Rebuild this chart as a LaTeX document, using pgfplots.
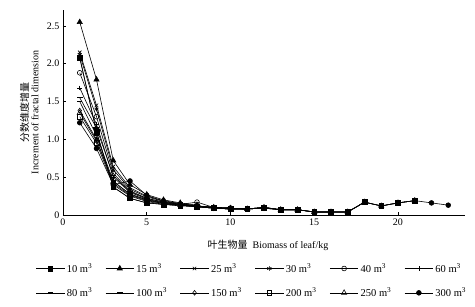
\documentclass[border=0pt]{standalone}
\usepackage{fontspec}
\setmainfont{Liberation Serif}
\newfontfamily\cjk{Noto Sans CJK SC}
\usepackage{pgfplots}
\usepackage{pgfplotstable}
\pgfplotsset{compat=1.18}
\pgfplotstableread{
x s10 s15 s25 s30 s40 s60 s80 s100 s150 s200 s250 s300
1 2.08 2.55 2.15 2.12 1.88 1.68 1.50 1.55 1.38 1.30 1.35 1.22
2 1.10 1.79 1.45 1.40 1.30 1.20 1.05 1.15 1.00 0.95 0.98 0.88
3 0.37 0.72 0.64 0.60 0.55 0.50 0.45 0.52 0.42 0.40 0.44 0.40
4 0.22 0.40 0.36 0.34 0.32 0.30 0.27 0.31 0.26 0.25 0.28 0.45
5 0.16 0.27 0.25 0.24 0.22 0.21 0.20 0.22 0.19 0.18 0.20 0.26
6 0.14 0.20 0.19 0.18 0.17 0.16 0.15 0.17 0.15 0.14 0.16 0.18
7 0.13 0.16 0.15 0.15 0.14 0.14 0.13 0.14 0.13 0.12 0.13 0.14
8 0.11 0.13 0.12 0.12 0.17 0.12 0.11 0.12 0.11 0.11 0.12 0.12
9 0.09 nan 0.10 0.10 0.10 0.10 0.09 0.10 0.09 0.09 0.10 0.10
10 0.08 nan nan 0.09 0.09 0.09 0.08 0.09 0.08 0.08 0.09 0.09
11 0.08 nan nan nan 0.08 0.08 0.08 0.08 0.08 0.08 0.08 0.08
12 0.10 nan nan nan nan 0.09 0.09 0.10 0.09 0.09 0.10 0.10
13 0.07 nan nan nan nan nan 0.07 0.07 0.07 0.07 0.07 0.07
14 0.07 nan nan nan nan nan nan 0.07 0.07 0.07 0.07 0.07
15 0.04 nan nan nan nan nan nan nan 0.04 0.04 0.04 0.04
16 0.04 nan nan nan nan nan nan nan 0.04 0.04 0.04 0.04
17 0.04 nan nan nan nan nan nan nan nan 0.04 0.04 0.04
18 0.17 nan nan nan nan nan nan nan nan 0.17 0.17 0.17
19 0.12 nan nan nan nan nan nan nan nan nan 0.12 0.12
20 0.16 nan nan nan nan nan nan nan nan nan 0.16 0.16
21 0.19 nan nan nan nan nan nan nan nan nan 0.19 0.19
22 nan nan nan nan nan nan nan nan nan nan nan 0.16
23 nan nan nan nan nan nan nan nan nan nan nan 0.13
}\datatab
\begin{document}
\begin{tikzpicture}
\path[use as bounding box] (-63pt,-91pt) rectangle (412pt,215pt);
\begin{axis}[
  at={(0,0)}, anchor=south west,
  scale only axis, width=402pt, height=205pt,
  xmin=0, xmax=24, ymin=0, ymax=2.71,
  axis x line*=bottom, axis y line*=left,
  axis line style={-, line width=0.7pt},
  tick style={line width=0.6pt, black},
  major tick length=3pt,
  xtick={0,5,10,15,20}, ytick={0,0.5,1,1.5,2,2.5},
  yticklabels={0,0.5,1.0,1.5,2.0,2.5},
  /pgf/number format/assume math mode=true,
  tick label style={font=\fontsize{10}{12}\selectfont},
  xlabel={{\cjk 叶生物量}\ \ Biomass of leaf/kg},
  xlabel style={font=\fontsize{10}{12}\selectfont, at={(rel axis cs:0.51,0)}, yshift=-22pt, anchor=north},
  ylabel={\shortstack{{\cjk 分数维度增量}\\[-1pt]Increment of fractal dimension}},
  ylabel style={font=\fontsize{10}{11}\selectfont, at={(rel axis cs:0,0.5)}, anchor=south, yshift=21pt, xshift=0pt},
  every axis plot/.append style={black, line width=0.6pt, mark size=2.4pt},
  legend style={at={(rel axis cs:0.47,-0.225)}, anchor=north, draw=none, fill=none,
    font=\fontsize{10.5}{12}\selectfont, legend columns=6,
    /tikz/every even column/.append style={column sep=11pt},
    row sep=10pt, inner sep=0pt},
  legend cell align=left,
  legend image code/.code={\draw[mark repeat=2,mark phase=2] plot coordinates {(0cm,0cm) (0.5cm,0cm) (1.0cm,0cm)};},
]
\addplot[mark=square*] table[x=x,y=s10] {\datatab};
\addlegendentry{10 m\textsuperscript{3}}
\addplot[mark=triangle*, mark size=3pt] table[x=x,y=s15] {\datatab};
\addlegendentry{15 m\textsuperscript{3}}
\addplot[mark=x] table[x=x,y=s25] {\datatab};
\addlegendentry{25 m\textsuperscript{3}}
\addplot[mark=asterisk] table[x=x,y=s30] {\datatab};
\addlegendentry{30 m\textsuperscript{3}}
\addplot[mark=o, mark options={fill=white}] table[x=x,y=s40] {\datatab};
\addlegendentry{40 m\textsuperscript{3}}
\addplot[mark=+] table[x=x,y=s60] {\datatab};
\addlegendentry{60 m\textsuperscript{3}}
\addplot[mark=-, mark options={line width=1.2pt}] table[x=x,y=s80] {\datatab};
\addlegendentry{80 m\textsuperscript{3}}
\addplot[mark=-, mark options={line width=1.4pt}, mark size=3pt] table[x=x,y=s100] {\datatab};
\addlegendentry{100 m\textsuperscript{3}}
\addplot[mark=diamond, mark options={fill=white}] table[x=x,y=s150] {\datatab};
\addlegendentry{150 m\textsuperscript{3}}
\addplot[mark=square, mark options={fill=white}] table[x=x,y=s200] {\datatab};
\addlegendentry{200 m\textsuperscript{3}}
\addplot[mark=triangle, mark size=3pt, mark options={fill=white}] table[x=x,y=s250] {\datatab};
\addlegendentry{250 m\textsuperscript{3}}
\addplot[mark=*] table[x=x,y=s300] {\datatab};
\addlegendentry{300 m\textsuperscript{3}}
\addplot[mark=square*, forget plot] table[x=x,y=s10] {\datatab};
\end{axis}
\end{tikzpicture}
\end{document}
